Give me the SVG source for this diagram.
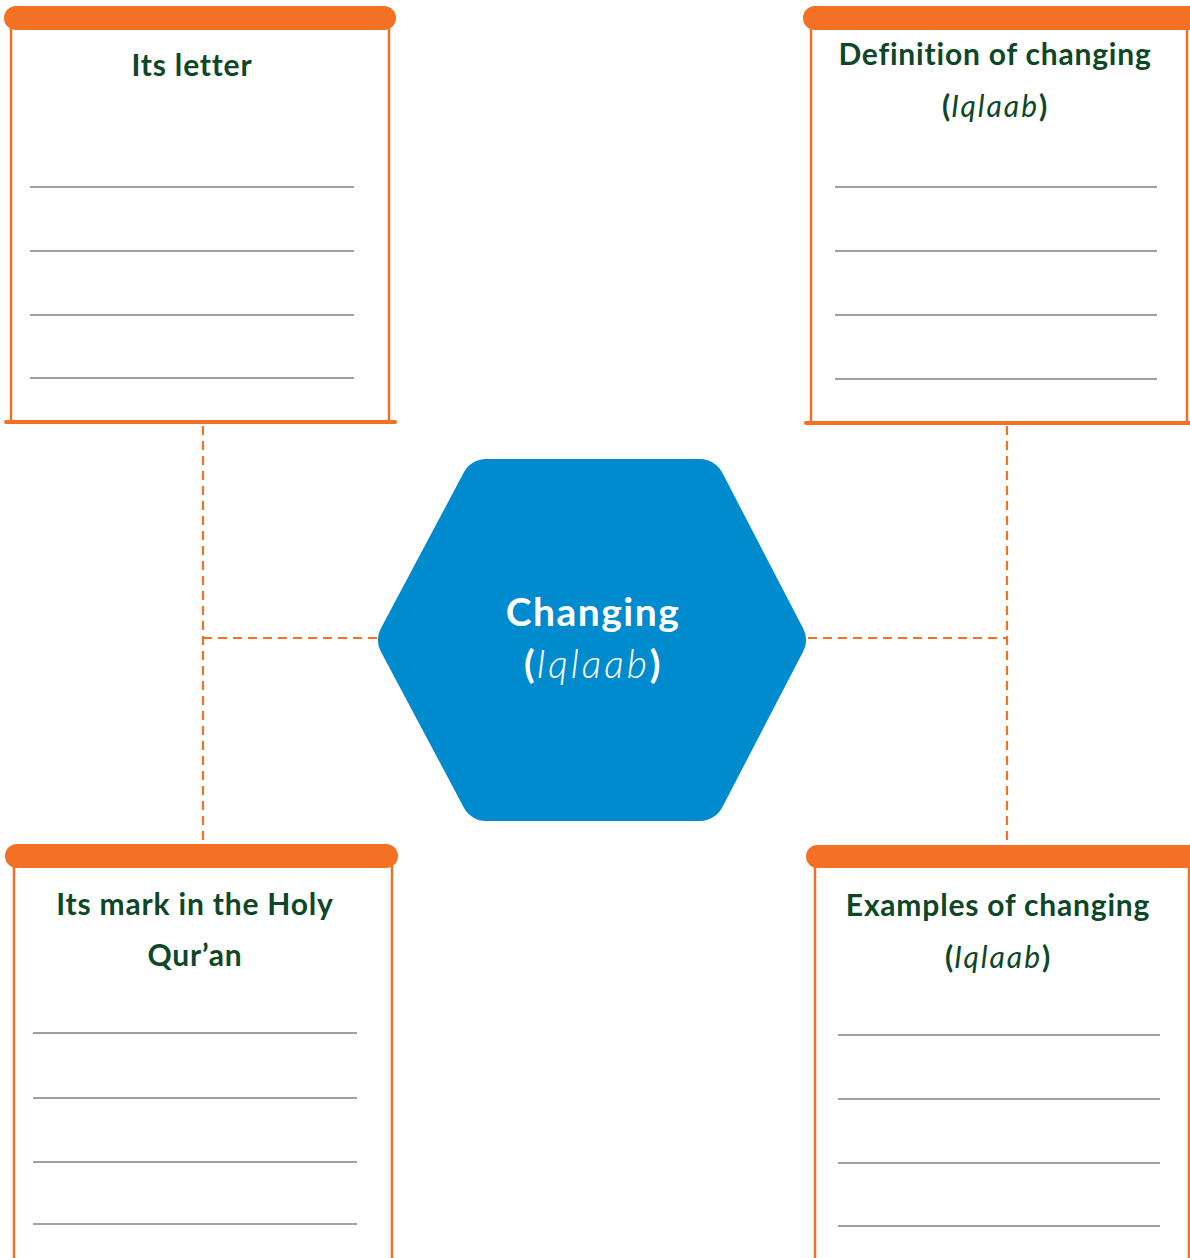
<svg xmlns="http://www.w3.org/2000/svg" width="1190" height="1258" viewBox="0 0 1190 1258">
<style>
.bar{fill:#f37124}
.side{stroke:#f37124;stroke-width:2.5;fill:none}
.bot{stroke:#f37124;stroke-width:4;stroke-linecap:round}
.rule{stroke:#a0a0a0;stroke-width:2}
.conn{stroke:#f37124;stroke-width:2.2;stroke-dasharray:9 6;fill:none}
.h{font-family:"Lato","Liberation Sans",sans-serif;font-weight:bold;font-size:30px;letter-spacing:0.8px;fill:#0e4727;text-anchor:middle}
.it{font-style:italic;font-weight:normal;letter-spacing:2px}
.c{font-family:"Lato","Liberation Sans",sans-serif;font-weight:bold;font-size:39px;letter-spacing:1.5px;fill:#ffffff;text-anchor:middle}
.ci{font-style:italic;font-weight:300;letter-spacing:3px}
</style>
<rect width="1190" height="1258" fill="#ffffff"/>
<g id="connectors">
<path class="conn" d="M203 426 V842"/>
<path class="conn" d="M203 638 H378"/>
<path class="conn" d="M1007 426 V843"/>
<path class="conn" d="M808 638 H1007"/>
</g>
<g id="box-letter">
<rect class="bar" x="4" y="6" width="392" height="24" rx="12"/>
<path class="side" d="M11 28 V422 M389 28 V422"/>
<path class="bot" d="M6 422 H395"/>
<text class="h" x="192" y="76">Its letter</text>
<path class="rule" d="M30 187 H354 M30 251 H354 M30 315 H354 M30 378 H354"/>
</g>
<g id="box-definition">
<rect class="bar" x="803" y="6" width="400" height="24" rx="12"/>
<path class="side" d="M811 28 V423 M1187 28 V423"/>
<path class="bot" d="M806 423 H1192"/>
<text class="h" x="995" y="65">Definition of changing</text>
<text class="h" x="995" y="117">(<tspan class="it">Iqlaab</tspan>)</text>
<path class="rule" d="M835 187 H1157 M835 251 H1157 M835 315 H1157 M835 379 H1157"/>
</g>
<g id="box-mark">
<rect class="bar" x="5" y="844" width="393" height="24" rx="12"/>
<path class="side" d="M14 866 V1260 M392 866 V1260"/>
<text class="h" x="195" y="915">Its mark in the Holy</text>
<text class="h" x="195" y="966">Qur’an</text>
<path class="rule" d="M33 1033 H357 M33 1098 H357 M33 1162 H357 M33 1224 H357"/>
</g>
<g id="box-examples">
<rect class="bar" x="806" y="845" width="400" height="23" rx="11.5"/>
<path class="side" d="M815 866 V1260 M1189 866 V1260"/>
<text class="h" x="998" y="916">Examples of changing</text>
<text class="h" x="998" y="968">(<tspan class="it">Iqlaab</tspan>)</text>
<path class="rule" d="M838 1035 H1160 M838 1099 H1160 M838 1163 H1160 M838 1226 H1160"/>
</g>
<g id="hub">
<polygon points="486,484 700,484 781,640 700,796 486,796 403,640" fill="#008bcf" stroke="#008bcf" stroke-width="50" stroke-linejoin="round"/>
<text class="c" x="593" y="626">Changing</text>
<text class="c" x="593" y="678">(<tspan class="ci">Iqlaab</tspan>)</text>
</g>
</svg>
